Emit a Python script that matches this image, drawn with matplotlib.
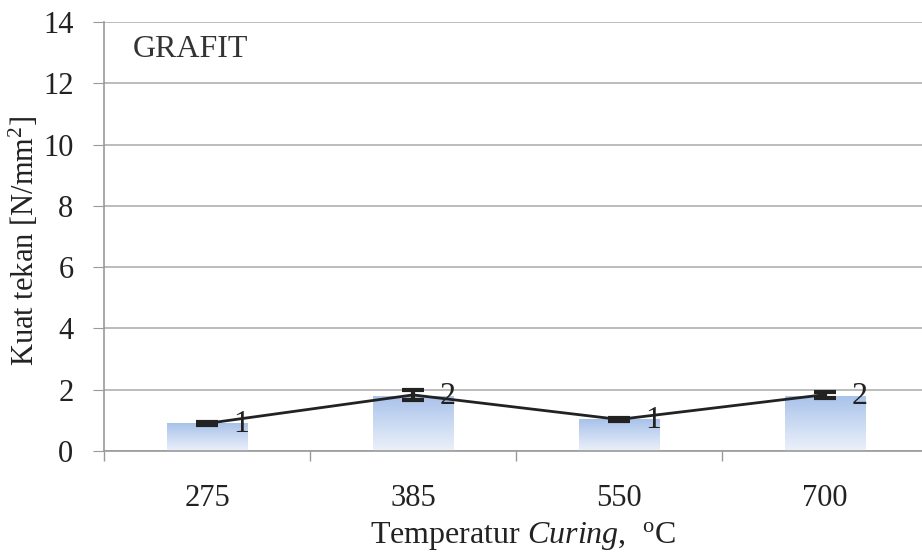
import numpy as np
import matplotlib.pyplot as plt
from matplotlib.patches import Rectangle

plt.rcParams['font.family'] = ['Liberation Serif', 'DejaVu Serif']
plt.rcParams['mathtext.fontset'] = 'custom'
plt.rcParams['mathtext.rm'] = 'Liberation Serif'
plt.rcParams['mathtext.it'] = 'Liberation Serif:italic'

# data
temps = ['275', '385', '550', '700']
bar_vals = [0.91, 1.80, 1.04, 1.81]
line_vals = [0.90, 1.83, 1.03, 1.84]
errs = [0.05, 0.17, 0.04, 0.10]
labels = ['1', '2', '1', '2']

W, H = 922, 558
fig = plt.figure(figsize=(W / 100, H / 100), dpi=100)
ax = fig.add_axes([104 / W, (H - 451) / H, (928 - 104) / W, (451 - 22) / H])

x = np.arange(len(temps))
bw = 0.39

# gradient bars
grad = np.linspace(0, 1, 256).reshape(-1, 1)
top = np.array([168, 194, 234]) / 255
bot = np.array([236, 241, 250]) / 255
img = bot + (top - bot) * grad[:, :, None] * np.ones((1, 1, 3))
for xi, v in zip(x, bar_vals):
    r = Rectangle((xi - bw / 2, 0), bw, v, facecolor='none', edgecolor='none')
    ax.add_patch(r)
    im = ax.imshow(img, extent=(xi - bw / 2, xi + bw / 2, 0, v), origin='lower',
                   aspect='auto', zorder=2, interpolation='bilinear')
    im.set_clip_path(r)

ax.errorbar(x, line_vals, yerr=errs, color='#222222', lw=2, capsize=8,
            capthick=3, elinewidth=3, zorder=4)
for xi, v, t in zip(x, line_vals, labels):
    ax.annotate(t, (xi, v), xytext=(19, -1), textcoords='offset points',
                ha='left', va='center', fontsize=23, color='#222222', zorder=5)

ax.set_xlim(-0.5, 3.5)
ax.set_ylim(0, 14)
ax.set_yticks(range(0, 15, 2))
ax.set_xticks(x)
ax.set_xticklabels(temps)
ax.set_xticks(np.arange(-0.5, 4, 1), minor=True)
ax.tick_params(axis='x', which='major', length=0, pad=24, labelsize=22,
               labelcolor='#222222')
ax.tick_params(axis='x', which='minor', length=7, color='#999999', width=1)
ax.tick_params(axis='y', length=8, color='#999999', labelsize=22, pad=14,
               labelcolor='#222222')
ax.grid(axis='y', color='#b0b0b0', lw=1.2, zorder=0)
ax.set_axisbelow(True)
for s in ['top', 'right']:
    ax.spines[s].set_visible(False)
ax.spines['left'].set_color('#999999')
ax.spines['bottom'].set_color('#999999')
ax.spines['left'].set_linewidth(1.2)
ax.spines['bottom'].set_linewidth(1.2)

ax.text(29 / 824, 0.935, 'GRAFIT', transform=ax.transAxes, fontsize=23,
        color='#333333', ha='left', va='center')
ax.set_ylabel('Kuat tekan [N/mm$^2$]', fontsize=22, color='#222222')
ax.yaxis.set_label_coords(-0.077, 0.49)
ax.set_xlabel(r'Temperatur $\mathit{Curing}$,  $^{\mathrm{o}}$C', fontsize=23,
              color='#222222')
ax.xaxis.set_label_coords(0.508, -0.16)

fig.savefig('out.png', dpi=100)
